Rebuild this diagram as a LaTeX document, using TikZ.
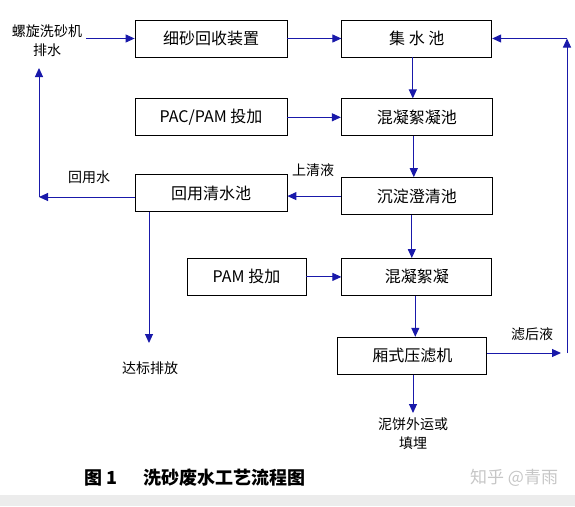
\documentclass[tikz,border=0pt]{standalone}
\usepackage{fontspec}
\setmainfont{Noto Sans CJK SC}
\usetikzlibrary{positioning, arrows.meta, calc}
\definecolor{linecol}{RGB}{25,25,170}

\begin{document}
\begin{tikzpicture}[x=1pt, y=-1pt,
		box/.style={rectangle, draw, line width=0.8pt, minimum width=152pt, minimum height=37pt, inner sep=0pt, font=\fontsize{16}{16}\selectfont},
		flow/.style={-{Triangle[length=9pt, width=8pt]}, line width=1pt, linecol},
		lab/.style={inner sep=0pt, align=center, font=\fontsize{14}{19}\selectfont}]
		\useasboundingbox (0,0) rectangle (575,506);
		% top row
		\node[box] (xs) at (211,38.5) {细砂回收装置};
		\node[box, minimum width=150pt, right=54pt of xs] (jsc) {集\ 水\ 池};
		\node[lab] (src) at (47,41) {螺旋洗砂机\\排水};
		% dosing and treatment
		\node[box, below=41pt of xs] (pac) {PAC/PAM 投加};
		\node[box, minimum width=151pt, below=41pt of jsc] (hnc) {混凝絮凝池};
		\node[box, below=38pt of pac] (hys) {回用清水池};
		\node[box, minimum width=151pt, below=41pt of hnc] (cd) {沉淀澄清池};
		\node[box, minimum width=150pt, below=43pt of cd] (hn) {混凝絮凝};
		\node[box, minimum width=119pt, left=35pt of hn] (pam) {PAM 投加};
		\node[box, minimum width=149pt, below=41pt of hn, xshift=-4.5pt] (ylj) {厢式压滤机};
		% labels
		\node[lab, anchor=west] (sqy) at (292,170) {上清液};
		\node[lab] (hysw) at (89,177) {回用水};
		\node[lab] (dbpf) at (150,368) {达标排放};
		\node[lab] (nb) at (413,434) {泥饼外运或\\填埋};
		\node[lab] (lhy) at (532,334) {滤后液};
		% helper points
		\coordinate (turn) at (39,197);
		\coordinate (srcin) at (39,68);
		\coordinate (out) at (149,343);
		\coordinate (cake) at (413,413);
		\coordinate (lhyend) at (561,353);
		\coordinate (upbot) at (567,353);
		\coordinate (uptop) at (567,38.5);
		% forward arrows
		\draw[flow, shorten <=4pt] (src.east |- xs.west) -- (xs.west);
		\draw[flow] (xs) -- (jsc);
		\draw[flow] ([xshift=-4pt]jsc.south) -- ([xshift=-4pt]hnc.north);
		\draw[flow] (pac) -- (hnc);
		\draw[flow] ([xshift=-3pt]hnc.south) -- ([xshift=-3pt]cd.north);
		\draw[flow] (cd.west) -- (cd.west -| hys.east);
		\draw[flow] ([xshift=-5pt]cd.south) -- ([xshift=-5pt]hn.north);
		\draw[flow] (pam) -- (pam -| hn.west);
		\draw[flow] ([xshift=-1.5pt]hn.south) -- ([xshift=-1.5pt]hn.south |- ylj.north);
		\draw[flow] (ylj.south -| cake) -- (cake);
		% return water
		\draw[flow] (hys.west |- turn) -- (turn);
		\draw[flow] (turn) -- (srcin);
		\draw[flow] (hys.south -| out) -- (out);
		% filtrate back to the tank
		\draw[flow] (ylj.east |- lhyend) -- (lhyend);
		\draw[flow] (upbot) -- (uptop);
		\draw[flow] (uptop) -- (jsc.east);
		% caption
		\node[inner sep=0pt, anchor=west, font=\fontsize{18}{18}\selectfont\bfseries] (cap1) at (84,478) {图 1};
		\node[inner sep=0pt, anchor=west, font=\fontsize{18}{18}\selectfont\bfseries] (cap2) at (143,478) {洗砂废水工艺流程图};
		\node[inner sep=0pt, anchor=west, text=gray!45, font=\fontsize{17}{17}\selectfont] (wm) at (470,478) {知乎 @青雨};
		\fill[gray!15] (0,495) rectangle (575,506);
	\end{tikzpicture}
\end{document}
